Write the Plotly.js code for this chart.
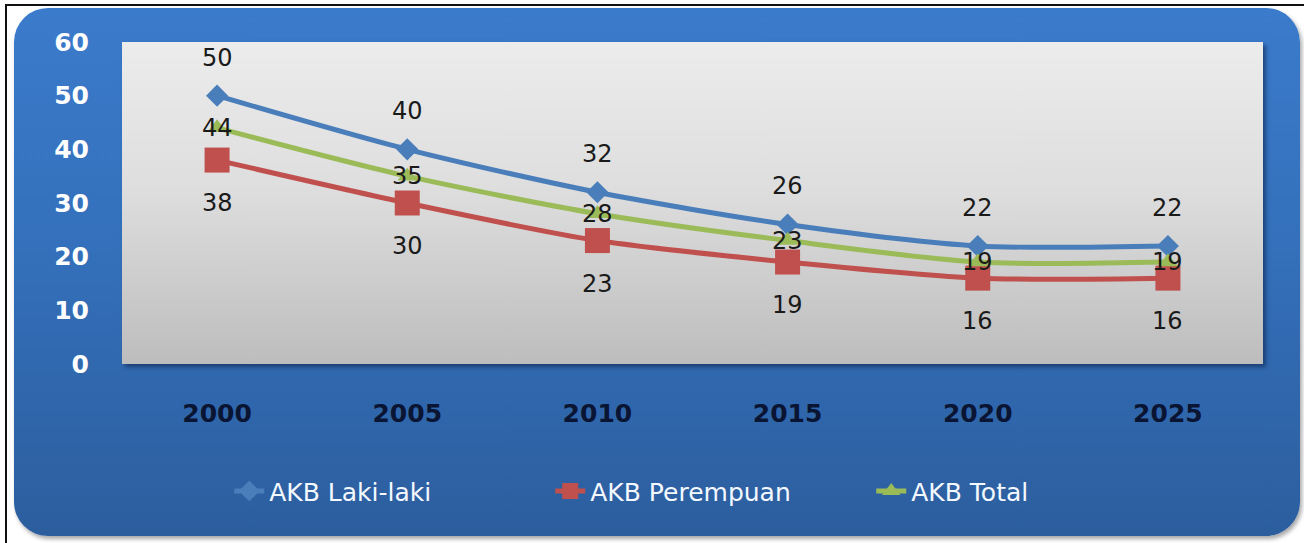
<!DOCTYPE html>
<html>
<head>
<meta charset="utf-8">
<script src="https://cdn.plot.ly/plotly-3.0.1.min.js"></script>
<style>
  html, body { margin: 0; padding: 0; background: #ffffff; }
  #wrap { position: relative; width: 1304px; height: 543px; overflow: hidden; background: #ffffff; }
  #frame { position: absolute; left: 5px; top: 4px; width: 1400px; height: 700px; border-left: 2px solid #111; border-top: 2px solid #111; }
  #panel { position: absolute; left: 14px; top: 8px; width: 1286px; height: 528px; border-radius: 34px;
           background: linear-gradient(to bottom, #3b7bcb 0%, #3470bb 45%, #2c5e9e 100%);
           box-shadow: 2px 3px 4px rgba(0,0,0,0.35); }
  #plotbg { position: absolute; left: 122px; top: 42px; width: 1141px; height: 322px;
            background: linear-gradient(to bottom, #ececec 0%, #dedede 45%, #bdbdbd 100%);
            box-shadow: 3px 3px 4px rgba(10,30,70,0.55); }
  #chart { position: absolute; left: 0; top: 0; width: 1304px; height: 543px; }
</style>
</head>
<body>
<div id="wrap">
  <div id="frame"></div>
  <div id="panel"></div>
  <div id="plotbg"></div>
  <div id="chart"></div>
</div>
<script>
const categories = ['2000', '2005', '2010', '2015', '2020', '2025'];
const akbLaki = [50, 40, 32, 26, 22, 22];
const akbPerempuan = [38, 30, 23, 19, 16, 16];
const akbTotal = [44, 35, 28, 23, 19, 19];
const seriesNames = ['AKB Laki-laki', 'AKB Perempuan', 'AKB Total'];
const yTicks = [0, 10, 20, 30, 40, 50, 60];

const colors = ['#4a7ebb', '#c0504d', '#9bbb59'];
const symbols = ['diamond', 'square', 'triangle-up'];
const sizes = [17, 25, 17];
const seriesVals = [akbLaki, akbPerempuan, akbTotal];
const labelShift = [38, -43, 0];

const traces = seriesVals.map((vals, i) => ({
  type: 'scatter',
  mode: 'lines+markers',
  name: seriesNames[i],
  x: categories,
  y: vals,
  line: { color: colors[i], width: 5, shape: 'spline', smoothing: 0.8 },
  marker: { symbol: symbols[i], size: sizes[i], color: colors[i] },
  hoverinfo: 'x+y+name'
}));

const annotations = [];
seriesVals.forEach((vals, i) => {
  vals.forEach((v, j) => {
    annotations.push({
      x: j, y: v, xref: 'x', yref: 'y',
      text: String(v), showarrow: false, yshift: labelShift[i],
      font: { family: 'DejaVu Sans', size: 24, color: '#1a1a1a' }
    });
  });
});

const layout = {
  width: 1304, height: 543,
  margin: { l: 122, r: 41, t: 42, b: 179, autoexpand: false },
  paper_bgcolor: 'rgba(0,0,0,0)',
  plot_bgcolor: 'rgba(0,0,0,0)',
  showlegend: true,
  legend: {
    orientation: 'h', x: 0.516, xanchor: 'center', y: -0.395, yanchor: 'middle',
    font: { family: 'DejaVu Sans', size: 25, color: '#f4f8ff' },
    bgcolor: 'rgba(0,0,0,0)', entrywidth: 276, entrywidthmode: 'pixels', traceorder: 'normal'
  },
  xaxis: {
    type: 'category', range: [-0.5, 5.5], showgrid: false, zeroline: false,
    showline: false, ticks: '', ticklabelstandoff: 32,
    tickfont: { family: 'DejaVu Sans', size: 25, color: '#0a1433', weight: 'bold' },
    fixedrange: true
  },
  yaxis: {
    range: [0, 60], tickvals: yTicks, ticktext: yTicks.map(String),
    showgrid: false, zeroline: false, showline: false, ticks: '', ticklabelstandoff: 32,
    tickfont: { family: 'DejaVu Sans', size: 25, color: '#ffffff', weight: 'bold' },
    fixedrange: true
  },
  annotations: annotations,
  font: { family: 'DejaVu Sans' }
};

Plotly.newPlot('chart', traces, layout, { displayModeBar: false, staticPlot: true });
</script>
</body>
</html>
